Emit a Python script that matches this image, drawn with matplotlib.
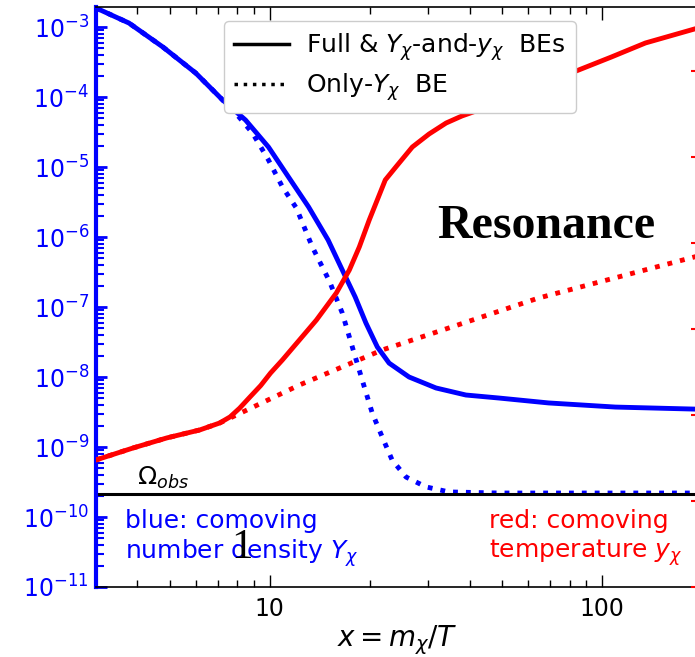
import numpy as np
import matplotlib
matplotlib.use("Agg")
import matplotlib.pyplot as plt
from matplotlib.lines import Line2D
from matplotlib.ticker import LogLocator, NullLocator, NullFormatter, FuncFormatter

# comoving number density Y_chi (left axis)
x_full = [3.0, 3.77, 4.77, 5.99, 7.22, 8.46, 9.92, 11.4, 13.1, 15.0, 16.55, 18.1,
          19.5, 21.1, 22.9, 26.3, 31.7, 39.0, 49.0, 69.2, 110.0, 195.0]
Y_full = [1.87e-3, 1.14e-3, 5.18e-4, 2.20e-4, 9.06e-5, 4.69e-5, 1.93e-5, 7.19e-6,
          2.69e-6, 9.06e-7, 3.38e-7, 1.39e-7, 5.90e-8, 2.69e-8, 1.58e-8, 1.0e-8,
          6.97e-9, 5.53e-9, 5.01e-9, 4.26e-9, 3.72e-9, 3.47e-9]

x_only = [3.0, 3.77, 4.77, 5.99, 7.22, 7.90, 8.88, 9.92, 10.93, 12.04, 13.45, 15.13,
          16.55, 17.74, 19.0, 20.37, 21.83, 23.38, 25.76, 29.58, 34.7, 49.0, 195.0]
Y_only = [1.87e-3, 1.14e-3, 5.18e-4, 2.20e-4, 9.06e-5, 5.90e-5, 3.06e-5, 1.26e-5,
          5.18e-6, 2.59e-6, 7.19e-7, 2.35e-7, 8.20e-8, 2.69e-8, 9.06e-9, 3.06e-9,
          1.39e-9, 6.52e-10, 3.72e-10, 2.69e-10, 2.28e-10, 2.20e-10, 2.20e-10]

# comoving temperature y_chi (right axis)
xr_full = [3.0, 3.875, 4.90, 6.16, 7.07, 7.6, 8.12, 8.70, 9.4, 10.06, 10.93, 13.83,
           15.88, 17.38, 18.62, 19.95, 21.09, 22.3, 24.0, 26.9, 30.2, 34.0, 37.95,
           42.7, 53.6, 67.8, 85.3, 107.0, 135.5, 195.0]
yr_full = [0.300, 0.413, 0.541, 0.670, 0.807, 0.95, 1.2, 1.6, 2.2, 3.07, 4.37, 12.7,
           26.2, 48.5, 89.7, 185, 316, 541, 766, 1306, 1849, 2483, 2999,
           3524, 4989, 7244, 10280, 14550, 21180, 31620]

xr_only = [3.0, 3.875, 4.90, 6.16, 7.07, 12.29, 21.83, 34.7, 64.5, 195.0]
yr_only = [0.300, 0.413, 0.541, 0.670, 0.807, 2.23, 5.70, 10.3, 22.9, 70.6]

Y_obs = 2.13e-10

fig = plt.figure(figsize=(6.95, 6.57), dpi=100)
ax = fig.add_axes([96 / 695, 1 - 587 / 657, 602 / 695, 580 / 657])
ax2 = ax.twinx()

ax.plot(x_only, Y_only, color="blue", lw=3.5, ls=":")
ax.plot(x_full, Y_full, color="blue", lw=3.5)
ax.axhline(Y_obs, color="black", lw=2.2)
ax2.plot(xr_only, yr_only, color="red", lw=3.5, ls=":")
ax2.plot(xr_full, yr_full, color="red", lw=3.5)

ax.set_xscale("log")
ax.set_yscale("log")
ax.set_xlim(3, 195)
ax.set_ylim(1e-11, 10 ** -2.714)
ax2.set_yscale("log")
ax2.set_ylim(1e-2, 10 ** 4.744)

ax.xaxis.set_major_formatter(FuncFormatter(lambda v, pos: "%g" % v))
ax.xaxis.set_minor_formatter(NullFormatter())
ax.yaxis.set_major_locator(LogLocator(base=10, numticks=20))
ax.yaxis.set_minor_locator(LogLocator(base=10, subs=np.arange(2, 10), numticks=100))
ax.yaxis.set_minor_formatter(NullFormatter())
ax2.yaxis.set_major_locator(LogLocator(base=10, numticks=20))
ax2.yaxis.set_minor_locator(NullLocator())

ax.tick_params(axis="x", which="both", direction="in", top=True, bottom=True,
               labelsize=17, pad=7)
ax.tick_params(axis="x", which="major", length=9, width=1)
ax.tick_params(axis="x", which="minor", length=5, width=1)
ax.tick_params(axis="y", which="both", direction="in", colors="blue", labelsize=17,
               pad=5, right=False)
ax.tick_params(axis="y", which="major", length=8, width=2)
ax.tick_params(axis="y", which="minor", length=6, width=1.5)
ax2.tick_params(axis="y", which="major", direction="in", length=5, width=1.5,
                colors="red", labelright=False)

ax.spines["left"].set_color("blue")
ax.spines["left"].set_linewidth(3)
for s in ["top", "bottom", "right"]:
    ax.spines[s].set_linewidth(1.2)
for s in ["left", "top", "bottom"]:
    ax2.spines[s].set_visible(False)
ax2.spines["right"].set_color("red")

ax.set_xlabel(r"$x = m_\chi/T$", fontsize=20, labelpad=2)

ax.text(4.0, 2.35e-10, r"$\Omega_{obs}$", fontsize=18, va="bottom", ha="left")
ax.text(0.048, 0.134, "blue: comoving\nnumber density $Y_\\chi$", color="blue",
        fontsize=18, va="top", ha="left", transform=ax.transAxes)
ax.text(0.653, 0.134, "red: comoving\ntemperature $y_\\chi$", color="red",
        fontsize=18, va="top", ha="left", transform=ax.transAxes)
ax.text(0.2425, 0.067, "1", fontsize=31, family="Liberation Serif",
        va="center", ha="center", transform=ax.transAxes)
ax.text(0.7475, 0.622, "Resonance", fontsize=34.5, family="Liberation Serif",
        weight="bold", va="center", ha="center", transform=ax.transAxes)

handles = [Line2D([], [], color="black", lw=2.5),
           Line2D([], [], color="black", lw=2.5, ls=":")]
labels = [r"Full & $Y_\chi$-and-$y_\chi$  BEs", r"Only-$Y_\chi$  BE"]
ax2.legend(handles, labels, loc="upper left", bbox_to_anchor=(0.2126, 0.976),
           fontsize=18, handlelength=2.2, handletextpad=0.7, labelspacing=0.35,
           borderaxespad=0, framealpha=1)

fig.savefig("out.png", dpi=100)
